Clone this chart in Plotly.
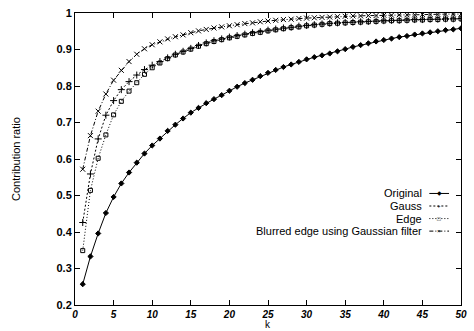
import plotly.graph_objects as go

k = list(range(1, 51))

original = [0.257, 0.333, 0.396, 0.452, 0.496, 0.533, 0.563, 0.590, 0.615, 0.637,
            0.656, 0.677, 0.694, 0.711, 0.727, 0.740, 0.753, 0.764, 0.775, 0.787,
            0.798, 0.808, 0.817, 0.827, 0.836, 0.844, 0.852, 0.859, 0.866, 0.873,
            0.879, 0.884, 0.889, 0.895, 0.901, 0.907, 0.912, 0.917, 0.922, 0.926,
            0.930, 0.934, 0.937, 0.941, 0.944, 0.947, 0.950, 0.953, 0.955, 0.958]

gauss = [0.426, 0.559, 0.655, 0.720, 0.760, 0.790, 0.812, 0.830, 0.845, 0.857,
         0.867, 0.877, 0.887, 0.895, 0.903, 0.911, 0.918, 0.924, 0.929, 0.934,
         0.938, 0.942, 0.946, 0.949, 0.953, 0.956, 0.959, 0.961, 0.964, 0.966,
         0.968, 0.970, 0.972, 0.973, 0.974, 0.975, 0.976, 0.977, 0.978, 0.979,
         0.980, 0.980, 0.981, 0.982, 0.982, 0.983, 0.983, 0.984, 0.984, 0.985]

edge = [0.349, 0.514, 0.602, 0.666, 0.721, 0.758, 0.786, 0.809, 0.832, 0.850,
        0.863, 0.875, 0.885, 0.893, 0.901, 0.909, 0.916, 0.922, 0.927, 0.932,
        0.936, 0.940, 0.944, 0.947, 0.951, 0.954, 0.957, 0.960, 0.962, 0.965,
        0.967, 0.969, 0.971, 0.972, 0.973, 0.974, 0.975, 0.976, 0.977, 0.978,
        0.979, 0.979, 0.980, 0.981, 0.981, 0.982, 0.982, 0.983, 0.983, 0.984]

blurred = [0.572, 0.664, 0.731, 0.778, 0.816, 0.843, 0.867, 0.887, 0.902, 0.913,
           0.921, 0.929, 0.935, 0.940, 0.946, 0.951, 0.955, 0.959, 0.962, 0.965,
           0.968, 0.971, 0.973, 0.976, 0.978, 0.980, 0.982, 0.983, 0.985, 0.986,
           0.987, 0.988, 0.989, 0.990, 0.991, 0.992, 0.992, 0.993, 0.993, 0.994,
           0.994, 0.995, 0.995, 0.995, 0.996, 0.996, 0.996, 0.997, 0.997, 0.997]

x_ticks = [0, 5, 10, 15, 20, 25, 30, 35, 40, 45, 50]
y_ticks = [0.2, 0.3, 0.4, 0.5, 0.6, 0.7, 0.8, 0.9, 1.0]
y_tick_labels = ["0.2", "0.3", "0.4", "0.5", "0.6", "0.7", "0.8", "0.9", "1"]

series_names = ["Original", "Gauss", "Edge", "Blurred edge using Gaussian filter"]

FONT = "Liberation Sans, Arial, sans-serif"

fig = go.Figure()
styles = [
    (original, "solid", "diamond", 4),
    (gauss, "2px,2px", "cross-thin", 5),
    (edge, "1px,2px", "square-open", 4),
    (blurred, "4px,2px,1px,2px", "x-thin", 5),
]
for name, (vals, dash, sym, size) in zip(series_names, styles):
    fig.add_trace(go.Scatter(
        x=k, y=vals, name=name, mode="lines+markers",
        line=dict(color="black", width=1, dash=dash),
        marker=dict(symbol=sym, size=size, color="black",
                    line=dict(color="black", width=1)),
        showlegend=False,
    ))

# gnuplot-style legend: text right-aligned, sample to the right
leg_y = [0.382, 0.339, 0.296, 0.253]
glyphs = ["◆", "+", "□", "×"]
dashes = ["solid", "2px,2px", "1px,2px", "4px,2px,1px,2px"]
shapes = []
annotations = []
for name, yy, g, d in zip(series_names, leg_y, glyphs, dashes):
    annotations.append(dict(x=0.901, y=yy, xref="paper", yref="paper",
                            text=name, showarrow=False, xanchor="right",
                            yanchor="middle", borderpad=0,
                            font=dict(family=FONT, size=11, color="black")))
    shapes.append(dict(type="line", xref="paper", yref="paper",
                       x0=0.918, x1=0.969, y0=yy, y1=yy,
                       line=dict(color="black", width=1, dash=d)))
    annotations.append(dict(x=0.944, y=yy, xref="paper", yref="paper",
                            text=g, showarrow=False, xanchor="center",
                            yanchor="middle", borderpad=0,
                            font=dict(family=FONT, size=6, color="black")))

annotations.append(dict(x=0.5, y=-0.066, xref="paper", yref="paper", text="k",
                        showarrow=False, xanchor="center", yanchor="middle",
                        font=dict(family=FONT, size=10, color="black")))
annotations.append(dict(x=-0.153, y=0.5, xref="paper", yref="paper",
                        text="Contribution ratio", textangle=-90,
                        showarrow=False, xanchor="center", yanchor="middle",
                        font=dict(family=FONT, size=11, color="black")))

fig.update_layout(
    width=474, height=331,
    margin=dict(l=75, r=7, t=10, b=26),
    paper_bgcolor="white", plot_bgcolor="white",
    shapes=shapes, annotations=annotations,
    font=dict(family=FONT, size=11, color="black"),
)
fig.update_xaxes(range=[0, 50], tickvals=x_ticks, ticks="inside", ticklen=5,
                 tickcolor="black", showline=True, linecolor="black",
                 linewidth=1, mirror="ticks", showgrid=False, zeroline=False,
                 tickfont=dict(family=FONT, size=10, color="black",
                               style="italic", weight="bold"))
fig.update_yaxes(range=[0.2, 1.0], tickvals=y_ticks, ticktext=y_tick_labels,
                 ticks="inside", ticklen=5, tickcolor="black", showline=True,
                 linecolor="black", linewidth=1, mirror="ticks",
                 showgrid=False, zeroline=False,
                 tickfont=dict(family=FONT, size=11, color="black",
                               weight="bold"))

fig.write_html("out.html")
